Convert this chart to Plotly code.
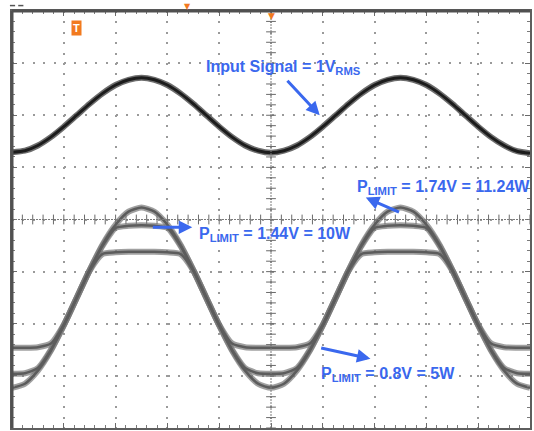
import plotly.graph_objects as go

# ---- data (time in screen divisions, amplitude in screen divisions) ----
time_div = [0.0, 0.25, 0.5, 0.75, 1.0, 1.25, 1.5, 1.75, 2.0, 2.25, 2.5, 2.75, 3.0, 3.25, 3.5,
            3.75, 4.0, 4.25, 4.5, 4.75, 5.0, 5.25, 5.5, 5.75, 6.0, 6.25, 6.5, 6.75, 7.0, 7.25,
            7.5, 7.75, 8.0, 8.25, 8.5, 8.75, 9.0, 9.25, 9.5, 9.75, 10.0]

input_signal = [1.29, 1.32, 1.42, 1.58, 1.78, 2.00, 2.22, 2.42, 2.58, 2.68, 2.72, 2.68, 2.58, 2.42,
                2.22, 2.00, 1.78, 1.58, 1.42, 1.32, 1.28, 1.32, 1.42, 1.58, 1.78, 2.00, 2.22, 2.42,
                2.58, 2.68, 2.72, 2.68, 2.58, 2.42, 2.22, 2.00, 1.78, 1.58, 1.42, 1.31, 1.27]

out_174 = [-3.23, -3.15, -2.90, -2.52, -2.03, -1.50, -0.97, -0.48, -0.10, 0.15, 0.23, 0.15, -0.10,
           -0.48, -0.97, -1.50, -2.03, -2.52, -2.90, -3.15, -3.23, -3.15, -2.90, -2.52, -2.03,
           -1.50, -0.97, -0.48, -0.10, 0.15, 0.23, 0.15, -0.10, -0.48, -0.97, -1.50, -2.03,
           -2.52, -2.90, -3.15, -3.23]

out_144 = [-2.96, -2.95, -2.85, -2.50, -2.03, -1.50, -0.97, -0.50, -0.16, -0.12, -0.11, -0.12,
           -0.16, -0.50, -0.97, -1.50, -2.03, -2.50, -2.85, -2.95, -2.96, -2.95, -2.85, -2.50,
           -2.03, -1.50, -0.97, -0.50, -0.16, -0.12, -0.11, -0.12, -0.16, -0.50, -0.97, -1.50,
           -2.03, -2.50, -2.85, -2.95, -2.96]

out_080 = [-2.46, -2.46, -2.45, -2.38, -2.02, -1.50, -0.98, -0.66, -0.63, -0.62, -0.62, -0.62,
           -0.63, -0.66, -0.98, -1.50, -2.02, -2.38, -2.45, -2.46, -2.46, -2.46, -2.45, -2.38,
           -2.02, -1.50, -0.98, -0.66, -0.63, -0.62, -0.62, -0.62, -0.63, -0.66, -0.98, -1.50,
           -2.02, -2.38, -2.45, -2.46, -2.46]

graticule_ticks = [i * 0.2 for i in range(51)]
graticule_vticks = [-4 + i * 0.2 for i in range(41)]

BLUE = "#3a68ee"
FONT = "Liberation Sans, Arial, sans-serif"

fig = go.Figure()

# center graticule lines with tick crosses
fig.add_shape(type="line", x0=0, x1=10, y0=0, y1=0, line=dict(color="#7a7a7a", width=1, dash="2px,1px"))
fig.add_shape(type="line", x0=5, x1=5, y0=-4, y1=4, line=dict(color="#7a7a7a", width=1, dash="2px,1px"))
fig.add_trace(go.Scatter(x=graticule_ticks, y=[0] * len(graticule_ticks), mode="markers",
                         marker=dict(symbol="line-ns", size=7, line=dict(color="#6a6a6a", width=1)),
                         hoverinfo="skip", showlegend=False))
fig.add_trace(go.Scatter(x=[5] * len(graticule_vticks), y=graticule_vticks, mode="markers",
                         marker=dict(symbol="line-ew", size=7, line=dict(color="#6a6a6a", width=1)),
                         hoverinfo="skip", showlegend=False))

# output traces (gray), underlay + core
for ys in (out_174, out_144, out_080):
    fig.add_trace(go.Scatter(x=time_div, y=ys, mode="lines",
                             line=dict(color="rgba(120,120,120,0.7)", width=6, shape="spline", smoothing=0.6),
                             hoverinfo="skip", showlegend=False))
for ys in (out_174, out_144, out_080):
    fig.add_trace(go.Scatter(x=time_div, y=ys, mode="lines",
                             line=dict(color="#5c5c5c", width=2.5, shape="spline", smoothing=0.6),
                             hoverinfo="skip", showlegend=False))

# input trace (black)
fig.add_trace(go.Scatter(x=time_div, y=input_signal, mode="lines",
                         line=dict(color="rgba(60,60,60,0.75)", width=6, shape="spline", smoothing=0.6),
                         hoverinfo="skip", showlegend=False))
fig.add_trace(go.Scatter(x=time_div, y=input_signal, mode="lines",
                         line=dict(color="#1c1c1c", width=3, shape="spline", smoothing=0.6),
                         hoverinfo="skip", showlegend=False))

axis_common = dict(
    showgrid=True, gridcolor="#9a9a9a", gridwidth=2,
    zeroline=False, showticklabels=False,
    ticks="inside", ticklen=5, tickcolor="#6a6a6a", tickwidth=1,
    minor=dict(ticks="inside", ticklen=3, tickcolor="#7a7a7a", tickwidth=1, dtick=0.2, showgrid=False),
    showline=True, linecolor="#5e5e5e", linewidth=2, mirror="allticks",
    fixedrange=True,
)

fig.update_layout(
    width=534, height=431,
    margin=dict(l=12, r=2, t=11, b=3),
    paper_bgcolor="white", plot_bgcolor="white",
    xaxis=dict(range=[0, 10], dtick=1, griddash="2px,8.4px", **axis_common),
    yaxis=dict(range=[-4, 4], dtick=1, griddash="2px,8.4px", **axis_common),
    showlegend=False,
)

# thicker dark frame on left and top like the scope screenshot
fig.add_shape(type="line", xref="paper", yref="paper", x0=0, x1=0, y0=0, y1=1,
              line=dict(color="#505050", width=3))
fig.add_shape(type="line", xref="paper", yref="paper", x0=0, x1=1, y0=1, y1=1,
              line=dict(color="#505050", width=3))
# small scope status marks above the frame
for (x0, x1) in ((-0.004, 0.006), (0.012, 0.022)):
    fig.add_shape(type="line", xref="paper", yref="paper", x0=x0, x1=x1, y0=1.013, y1=1.013,
                  line=dict(color="#555555", width=1.5))

txt_font = dict(family=FONT, size=16, color=BLUE)
annotations = [
    dict(x=3.71, y=2.92, text="<b>Input Signal = 1V<sub>RMS</sub></b>"),
    dict(x=6.63, y=0.62, text="<b>P<sub>LIMIT</sub> = 1.74V = 11.24W</b>"),
    dict(x=3.58, y=-0.28, text="<b>P<sub>LIMIT</sub> = 1.44V = 10W</b>"),
    dict(x=5.92, y=-2.97, text="<b>P<sub>LIMIT</sub> = 0.8V = 5W</b>"),
]
for a in annotations:
    fig.add_annotation(x=a["x"], y=a["y"], text=a["text"], showarrow=False,
                       xanchor="left", yanchor="middle", font=txt_font)

arrows = [
    (5.94, 2.0, 5.29, 2.69),
    (6.83, 0.42, 7.50, 0.13),
    (3.48, -0.15, 2.69, -0.15),
    (6.92, -2.67, 5.94, -2.46),
]
for (hx, hy, tx, ty) in arrows:
    fig.add_annotation(x=hx, y=hy, ax=tx, ay=ty, axref="x", ayref="y", text="",
                       showarrow=True, arrowhead=2, arrowsize=0.9, arrowwidth=3, arrowcolor=BLUE)

# trigger badge
fig.add_annotation(x=1.25, y=3.68, text="<b>T</b>", showarrow=False, bgcolor="#f27a1e",
                   font=dict(family=FONT, size=11, color="white"), borderpad=1)
# trigger position marker at top center
fig.add_annotation(xref="x", yref="paper", x=5, y=1.0, text="▼", showarrow=False, yanchor="top",
                   font=dict(family="DejaVu Sans", size=9, color="#f27a1e"), yshift=2)
fig.add_annotation(xref="paper", yref="paper", x=0.338, y=1.0, text="▼", showarrow=False, yanchor="bottom",
                   font=dict(family="DejaVu Sans", size=8, color="#f27a1e"), yshift=-2)

fig.write_html("out.html", config={"displayModeBar": False},
               post_script="document.body.style.margin='0';document.body.style.overflow='hidden';")
